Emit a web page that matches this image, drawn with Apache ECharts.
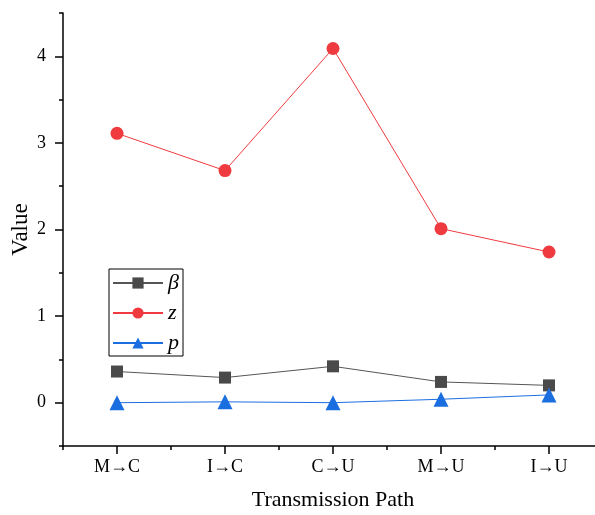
<!DOCTYPE html>
<html><head><meta charset="utf-8">
<script src="https://cdn.jsdelivr.net/npm/echarts@6/dist/echarts.min.js"></script>
<style>html,body{margin:0;padding:0;background:#fff}#c{width:595px;height:515px}</style>
</head><body><div id="c"></div>
<script>
const categories = ['M→C', 'I→C', 'C→U', 'M→U', 'I→U'];
const betaValues = [0.36, 0.29, 0.42, 0.24, 0.20];
const zValues = [3.11, 2.68, 4.09, 2.01, 1.74];
const pValues = [0.00, 0.01, 0.00, 0.04, 0.09];
const yMajorTicks = [0, 1, 2, 3, 4];
const yMinorTicks = [-0.5, 0.5, 1.5, 2.5, 3.5, 4.5];

const font = 'Liberation Serif, Times New Roman, serif';
const chart = echarts.init(document.getElementById('c'));
const yBase = {
  type: 'value', min: -0.5, max: 4.5, position: 'left',
  splitLine: {show: false}
};
chart.setOption({
  animation: false,
  grid: {left: 63, top: 13, width: 540, height: 433, containLabel: false, outerBoundsMode: 'none'},
  legend: {
    left: 109, top: 269, orient: 'vertical',
    borderColor: '#000', borderWidth: 1,
    padding: [3, 4, 2, 3],
    itemWidth: 50, itemHeight: 14, itemGap: 8,
    textStyle: {fontFamily: font, fontSize: 22, fontStyle: 'italic', color: '#000'},
    data: ['β', 'z', 'p']
  },
  xAxis: [{
    type: 'category', data: categories, boundaryGap: true,
    name: 'Transmission Path', nameLocation: 'middle', nameGap: 43, nameMoveOverlap: false,
    nameTextStyle: {fontFamily: font, fontSize: 22, color: '#000'},
    axisLine: {onZero: false, lineStyle: {color: '#000', width: 1.5}},
    axisTick: {show: true, alignWithLabel: true, length: 8, inside: false, lineStyle: {color: '#000', width: 1.5}},
    axisLabel: {fontFamily: font, fontSize: 18, color: '#000', margin: 12}
  }, {
    type: 'category', data: categories, boundaryGap: true, position: 'bottom',
    axisLine: {show: false, onZero: false},
    axisTick: {show: true, alignWithLabel: false, length: 4, lineStyle: {color: '#000', width: 1.5}},
    axisLabel: {show: false}
  }],
  yAxis: [Object.assign({}, yBase, {
    name: 'Value', nameLocation: 'middle', nameGap: 31, nameMoveOverlap: false,
    nameTextStyle: {fontFamily: font, fontSize: 23, color: '#000'},
    axisLine: {show: true, onZero: false, lineStyle: {color: '#000', width: 1.5}},
    axisTick: {show: true, length: 8, customValues: yMajorTicks, lineStyle: {color: '#000', width: 1.5}},
    axisLabel: {fontFamily: font, fontSize: 18, color: '#000', margin: 17, customValues: yMajorTicks}
  }), Object.assign({}, yBase, {
    axisLine: {show: false, onZero: false},
    axisTick: {show: true, length: 4, customValues: yMinorTicks, lineStyle: {color: '#000', width: 1.5}},
    axisLabel: {show: false, customValues: yMinorTicks}
  })],
  series: [{
    name: 'β', type: 'line', data: betaValues, symbol: 'rect', symbolSize: 12,
    itemStyle: {color: '#4a4a4a'}, lineStyle: {color: '#555', width: 1}, z: 3
  }, {
    name: 'z', type: 'line', data: zValues, symbol: 'circle', symbolSize: 13,
    itemStyle: {color: '#ef3b3f'}, lineStyle: {color: '#ef3b3f', width: 1}, z: 3
  }, {
    name: 'p', type: 'line', data: pValues, symbol: 'triangle', symbolSize: 15,
    itemStyle: {color: '#1b6ee0'}, lineStyle: {color: '#1b6ee0', width: 1}, z: 3
  }]
});
</script></body></html>
